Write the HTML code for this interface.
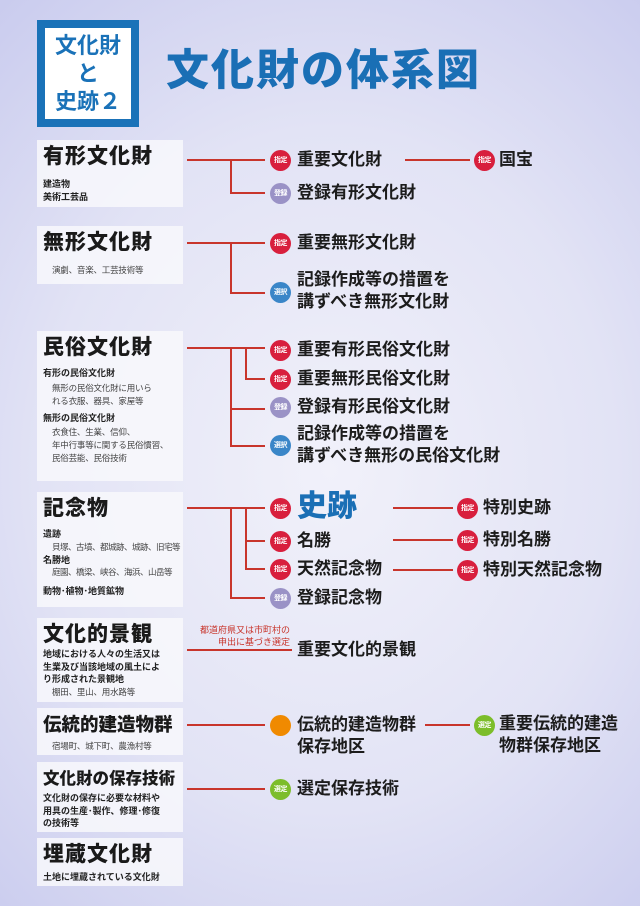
<!DOCTYPE html>
<html><head><meta charset="utf-8"><style>
*{margin:0;padding:0;box-sizing:border-box}
body{width:640px;height:906px;overflow:hidden;position:relative;font-family:"Liberation Sans","Noto Sans CJK JP",sans-serif;
background:radial-gradient(ellipse 520px 620px at 330px 470px,#f1f1fa 0%,#e2e3f5 55%,#c9cbee 100%);}
.a{position:absolute}
.box{position:absolute;left:37px;width:146px;background:rgba(248,248,252,0.85);padding:4px 6px;color:#222;overflow:hidden}
.box h2{font-size:21px;font-weight:900;letter-spacing:1px;line-height:26px;color:#1a1a1a;white-space:nowrap}
.box .s{font-size:9px;font-weight:bold;line-height:12.5px;white-space:nowrap}
.box .t{font-size:8.5px;line-height:13px;padding-left:9px;color:#444;white-space:nowrap;letter-spacing:-0.2px}
.h{position:absolute;height:2px;background:#c8352c}
.v{position:absolute;width:2px;background:#c8352c}
.b{position:absolute;width:21px;height:21px;border-radius:50%;color:#fff;font-size:7px;font-weight:bold;text-align:center;line-height:21px;letter-spacing:-0.5px;overflow:hidden}
.r{background:#d81f3d}.p{background:#9a92c6}.bl{background:#3a86c8}.o{background:#f08a00}.g{background:#7cbd2a}
.l{position:absolute;font-size:17px;font-weight:bold;color:#1c1c1c;line-height:22px;white-space:nowrap}
</style></head><body>
<div class="a" style="left:37px;top:20px;width:102px;height:107px;background:#1a72b8;padding:6px">
<div style="width:90px;height:95px;background:#fff;border:2px solid #1a72b8;outline:2px solid #fff;outline-offset:-5px;text-align:center;color:#1a72b8;font-size:22px;font-weight:bold;line-height:28px;padding-top:4px">文化財<br>と<br>史跡２</div></div>
<div class="a" style="left:166px;top:44px;font-size:43px;font-weight:900;color:#1a6fb5;letter-spacing:2px;line-height:54px">文化財の体系図</div>

<div class="box" style="top:140px;height:67px"><h2>有形文化財</h2><div class="s" style="margin-top:8px">建造物<br>美術工芸品</div></div>
<div class="box" style="top:226px;height:58px"><h2>無形文化財</h2><div class="t" style="margin-top:8px">演劇、音楽、工芸技術等</div></div>
<div class="box" style="top:331px;height:150px"><h2>民俗文化財</h2><div class="s" style="margin-top:6px">有形の民俗文化財</div><div class="t" style="margin-top:2px">無形の民俗文化財に用いら<br>れる衣服、器具、家屋等</div><div class="s" style="margin-top:4px">無形の民俗文化財</div><div class="t" style="margin-top:2px">衣食住、生業、信仰、<br>年中行事等に関する民俗慣習、<br>民俗芸能、民俗技術</div></div>
<div class="box" style="top:492px;height:115px"><h2>記念物</h2><div class="s" style="margin-top:6px">遺跡</div><div class="t" style="letter-spacing:-0.5px">貝塚、古墳、都城跡、城跡、旧宅等</div><div class="s">名勝地</div><div class="t" style="letter-spacing:-0.5px">庭園、橋梁、峡谷、海浜、山岳等</div><div class="s" style="margin-top:6px">動物･植物･地質鉱物</div></div>
<div class="box" style="top:618px;height:84px"><h2>文化的景観</h2><div class="s">地域における人々の生活又は<br>生業及び当該地域の風土によ<br>り形成された景観地</div><div class="t">棚田、里山、用水路等</div></div>
<div class="box" style="top:708px;height:47px"><h2 style="font-size:18.5px;letter-spacing:0">伝統的建造物群</h2><div class="t" style="margin-top:2px">宿場町、城下町、農漁村等</div></div>
<div class="box" style="top:762px;height:70px"><h2 style="font-size:16.5px;letter-spacing:0">文化財の保存技術</h2><div class="s">文化財の保存に必要な材料や<br>用具の生産･製作、修理･修復<br>の技術等</div></div>
<div class="box" style="top:838px;height:48px"><h2>埋蔵文化財</h2><div class="s" style="margin-top:3px">土地に埋蔵されている文化財</div></div>

<!-- row1 -->
<div class="h" style="left:187px;top:159px;width:78px"></div><div class="v" style="left:230px;top:159px;height:35px"></div><div class="h" style="left:230px;top:192px;width:35px"></div>
<div class="b r" style="left:270px;top:150px">指定</div><div class="l" style="left:297px;top:149px">重要文化財</div>
<div class="b p" style="left:270px;top:183px">登録</div><div class="l" style="left:297px;top:182px">登録有形文化財</div>
<div class="h" style="left:405px;top:159px;width:65px"></div><div class="b r" style="left:474px;top:150px">指定</div><div class="l" style="left:499px;top:149px">国宝</div>
<!-- row2 -->
<div class="h" style="left:187px;top:242px;width:78px"></div><div class="v" style="left:230px;top:242px;height:52px"></div><div class="h" style="left:230px;top:292px;width:35px"></div>
<div class="b r" style="left:270px;top:233px">指定</div><div class="l" style="left:297px;top:232px">重要無形文化財</div>
<div class="b bl" style="left:270px;top:282px">選択</div><div class="l" style="left:297px;top:269px">記録作成等の措置を<br>講ずべき無形文化財</div>
<!-- row3 -->
<div class="h" style="left:187px;top:347px;width:78px"></div><div class="v" style="left:230px;top:347px;height:100px"></div><div class="v" style="left:245px;top:347px;height:33px"></div>
<div class="h" style="left:245px;top:378px;width:20px"></div><div class="h" style="left:230px;top:408px;width:35px"></div><div class="h" style="left:230px;top:445px;width:35px"></div>
<div class="b r" style="left:270px;top:340px">指定</div><div class="l" style="left:297px;top:339px">重要有形民俗文化財</div>
<div class="b r" style="left:270px;top:369px">指定</div><div class="l" style="left:297px;top:368px">重要無形民俗文化財</div>
<div class="b p" style="left:270px;top:397px">登録</div><div class="l" style="left:297px;top:396px">登録有形民俗文化財</div>
<div class="b bl" style="left:270px;top:435px">選択</div><div class="l" style="left:297px;top:423px">記録作成等の措置を<br>講ずべき無形の民俗文化財</div>
<!-- row4 -->
<div class="h" style="left:187px;top:507px;width:78px"></div><div class="v" style="left:230px;top:507px;height:92px"></div><div class="v" style="left:245px;top:507px;height:63px"></div>
<div class="h" style="left:245px;top:540px;width:20px"></div><div class="h" style="left:245px;top:568px;width:20px"></div><div class="h" style="left:230px;top:597px;width:35px"></div>
<div class="b r" style="left:270px;top:498px">指定</div><div class="l" style="left:297px;top:489px;font-size:30px;line-height:36px;color:#1a6fb5;font-weight:900">史跡</div>
<div class="b r" style="left:270px;top:531px">指定</div><div class="l" style="left:297px;top:530px">名勝</div>
<div class="b r" style="left:270px;top:559px">指定</div><div class="l" style="left:297px;top:558px">天然記念物</div>
<div class="b p" style="left:270px;top:588px">登録</div><div class="l" style="left:297px;top:587px">登録記念物</div>
<div class="h" style="left:393px;top:507px;width:60px"></div><div class="h" style="left:393px;top:539px;width:60px"></div><div class="h" style="left:393px;top:569px;width:60px"></div>
<div class="b r" style="left:457px;top:498px">指定</div><div class="l" style="left:483px;top:497px">特別史跡</div>
<div class="b r" style="left:457px;top:530px">指定</div><div class="l" style="left:483px;top:529px">特別名勝</div>
<div class="b r" style="left:457px;top:560px">指定</div><div class="l" style="left:483px;top:559px">特別天然記念物</div>
<!-- row5 -->
<div class="a" style="left:190px;top:624px;width:100px;text-align:right;font-size:9px;line-height:12px;color:#c8352c;white-space:nowrap">都道府県又は市町村の<br>申出に基づき選定</div>
<div class="h" style="left:187px;top:649px;width:105px"></div><div class="l" style="left:297px;top:639px">重要文化的景観</div>
<!-- row6 -->
<div class="h" style="left:187px;top:724px;width:78px"></div><div class="b o" style="left:270px;top:715px"></div>
<div class="l" style="left:297px;top:714px">伝統的建造物群<br>保存地区</div>
<div class="h" style="left:425px;top:724px;width:45px"></div><div class="b g" style="left:474px;top:715px">選定</div><div class="l" style="left:499px;top:713px">重要伝統的建造<br>物群保存地区</div>
<!-- row7 -->
<div class="h" style="left:187px;top:788px;width:78px"></div><div class="b g" style="left:270px;top:779px">選定</div><div class="l" style="left:297px;top:778px">選定保存技術</div>
</body></html>
